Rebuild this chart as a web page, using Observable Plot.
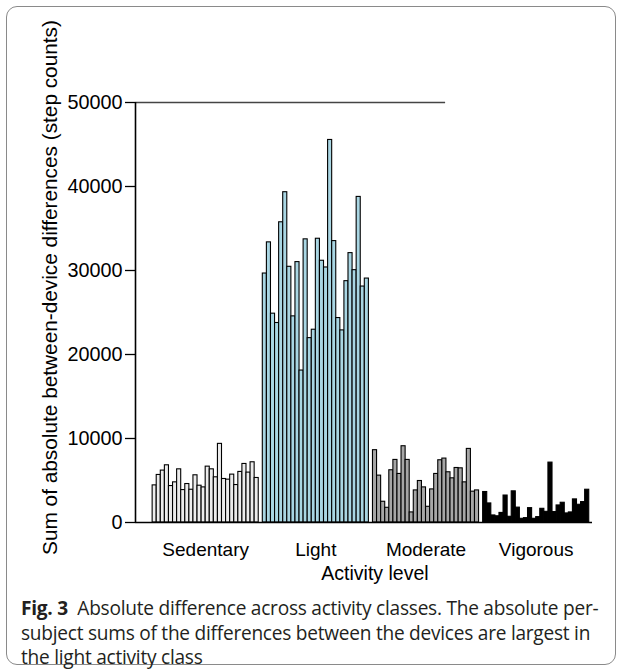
<!DOCTYPE html>
<html>
<head>
<meta charset="utf-8">
<script src="https://cdn.jsdelivr.net/npm/d3@7"></script>
<script src="https://cdn.jsdelivr.net/npm/@observablehq/plot@0.6"></script>
<style>
  html, body { margin: 0; padding: 0; background: #fff; }
  #page { position: relative; width: 624px; height: 671px; overflow: hidden; }
  #card { position: absolute; left: 6px; top: 6px; width: 610px; height: 659px; border: 1.3px solid #8a8a8a; border-radius: 11px; box-sizing: border-box; }
  #chart { position: absolute; left: 0; top: 0; }
  #caption { position: absolute; left: 21px; top: 596px; width: 600px; font-family: "Open Sans", sans-serif; font-size: 19.1px; line-height: 24.5px; color: #231f20; letter-spacing: -0.25px; white-space: nowrap; }
  #caption b { font-weight: 700; }
</style>
</head>
<body>
<div id="page">
  <div id="card"></div>
  <div id="chart"></div>
  <div id="caption"><b>Fig. 3</b>&nbsp; Absolute difference across activity classes. The absolute per-<br>subject sums of the differences between the devices are largest in<br>the light activity class</div>
</div>
<script>
const categories = ["Sedentary", "Light", "Moderate", "Vigorous"];
const fills = ["#ececec", "#a9d6e3", "#a6a6a6", "#000000"];
const yTicks = [0, 10000, 20000, 30000, 40000, 50000];

const sedentary = [4420, 5660, 6180, 6810, 4340, 4780, 6330, 3860, 4580, 3900, 5620, 4380, 4180,
                   6650, 6330, 5380, 9360, 5180, 5100, 5700, 4460, 6020, 6970, 5940, 7170, 5300];
const light = [29640, 33350, 24860, 23750, 35740, 39320, 30440, 24540, 31000, 18090, 33710, 21950, 22950,
               33780, 31160, 30360, 45540, 33500, 24340, 22870, 28730, 32070, 30040, 38760, 28090, 29040];
const moderate = [8610, 5580, 2470, 1750, 6220, 7450, 5780, 9080, 7450, 1200, 3820, 4940, 4180,
                  1870, 3940, 5780, 7410, 7610, 5980, 5260, 6490, 6450, 4780, 8760, 3670, 3820];
const vigorous = [3630, 2270, 840, 740, 1140, 3210, 680, 3710, 1770, 440, 520, 1710, 440,
                  640, 1630, 1270, 7130, 1240, 2030, 2350, 1080, 1200, 2750, 2110, 2430, 3900];

const series = [sedentary, light, moderate, vigorous];
const slotsPerGroup = 27; // 26 subjects + one empty slot between classes

const groupRows = series.map((vals, g) =>
  vals.map((v, i) => ({ group: categories[g], slot: g * slotsPerGroup + i, value: v }))
);
const labelRows = categories.map((c, g) => ({ label: c, center: g * slotsPerGroup + 13 }));

const xDomain = [-4.2, 107.8];

const chart = Plot.plot({
  width: 624,
  height: 592,
  marginTop: 102,
  marginBottom: 70,
  marginLeft: 135,
  marginRight: 32,
  style: { fontFamily: "'Liberation Sans', Arial, Helvetica, sans-serif", color: "#000", background: "transparent", overflow: "visible" },
  x: { domain: xDomain, axis: null },
  y: { domain: [0, 50000], axis: null },
  marks: [
    ...groupRows.map((rows, g) =>
      Plot.rectY(rows, {
        x1: d => d.slot,
        x2: d => d.slot + 1,
        y: "value",
        fill: fills[g],
        stroke: "#000",
        strokeWidth: 1.1
      })
    ),
    Plot.ruleY([0], { x1: xDomain[0], x2: xDomain[1], stroke: "#000", strokeWidth: 1.6 }),
    Plot.ruleY([50000], { x1: xDomain[0], x2: 71.8, stroke: "#444", strokeWidth: 1.6 }),
    Plot.ruleX([xDomain[0]], { y1: 0, y2: 50000, stroke: "#000", strokeWidth: 1.6 }),
    Plot.axisY({
      ticks: yTicks,
      tickSize: 10,
      tickPadding: 3,
      tickFormat: d => String(d),
      fontSize: 19.8,
      label: null,
      strokeWidth: 1.3
    }),
    Plot.text(labelRows, {
      x: "center",
      y: 0,
      text: "label",
      dy: 27,
      fontSize: 19,
      fill: "#000"
    }),
    Plot.text(["Activity level"], {
      frameAnchor: "bottom",
      dx: 11,
      dy: 57,
      fontSize: 19.5,
      fill: "#000"
    }),
    Plot.text(["Sum of absolute between-device differences (step counts)"], {
      frameAnchor: "left",
      textAnchor: "middle",
      rotate: -90,
      dx: -85,
      dy: -25,
      fontSize: 20.8,
      fill: "#000"
    })
  ]
});
document.getElementById("chart").appendChild(chart);
</script>
</body>
</html>
